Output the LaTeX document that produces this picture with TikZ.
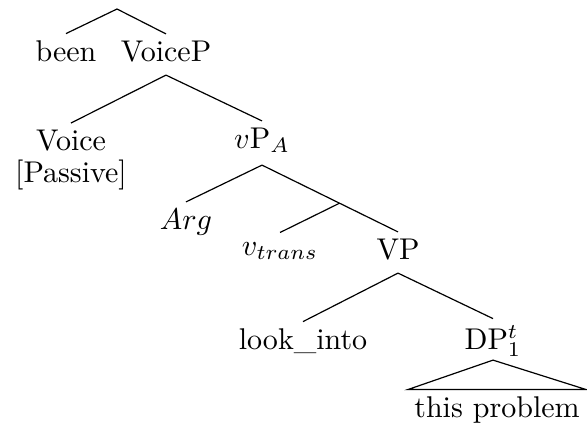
\documentclass[tikz,border=0pt]{standalone}
\usepackage{amsmath}
\usepackage{tikz}
\usetikzlibrary{calc}
\tikzstyle{word} = [inner sep=2pt, text depth=2.5pt, anchor=base]

\begin{document}
\begin{tikzpicture}[x=0.3333pt, y=-0.3333pt]
 \useasboundingbox (0,0) rectangle (587,428);

 \coordinate (top) at (117,9);
 \node [word] (been) at (66,61) {been};
 \node [word] (voicep) at (166,61) {VoiceP};
 \node [inner sep=2pt, align=center, anchor=north] (voice) at (71,123) {Voice\\[-1.3pt]{[Passive]}};
 \node [word, text depth=3.5pt] (vpa) at (262,148) {$v$P$_A$};
 \node [word] (arg) at (186,229) {$Arg$};
 \node [word, text height=5.3pt] (vtrans) at (280,255) {$v_{trans}$};
 \node [word] (vp) at (398,259) {VP};
 \coordinate (vbar) at ($(vpa.south)!0.57!(vp.north)$);
 \node [word] (look) at (303,349) {look\_into};
 \node [word, text depth=1.5pt] (dp) at (493,349) {DP$^t_1$};
 \node [word] (prob) at (497,417) {this problem};

 \draw (top) -- (been.north);
 \draw (top) -- (voicep.north);
 \draw (voicep.south) -- (voice.north);
 \draw (voicep.south) -- (vpa.north);
 \draw (vpa.south) -- (arg.north);
 \draw (vpa.south) -- (vbar) -- (vp.north);
 \draw (vbar) -- (vtrans.north);
 \draw (vp.south) -- (look.north);
 \draw (vp.south) -- (dp.north);
 \draw (dp.south) -- (prob.north west) -- (prob.north east) -- cycle;
\end{tikzpicture}
\end{document}
